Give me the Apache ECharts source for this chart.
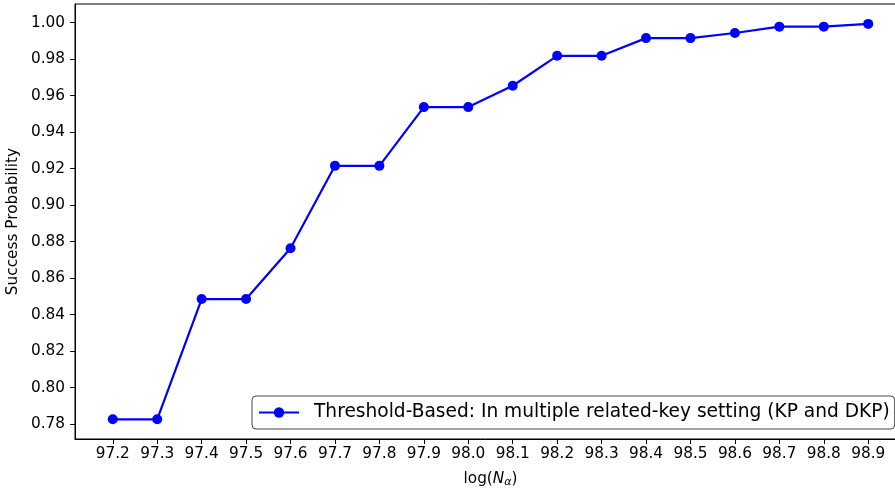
<!DOCTYPE html>
<html>
<head>
<meta charset="utf-8">
<script src="https://cdn.jsdelivr.net/npm/echarts@6/dist/echarts.min.js"></script>
<style>html,body{margin:0;padding:0;background:#fff}#c{width:895px;height:491px}</style>
</head>
<body>
<div id="c"></div>
<script>
var xValues = [97.2, 97.3, 97.4, 97.5, 97.6, 97.7, 97.8, 97.9, 98.0, 98.1, 98.2, 98.3, 98.4, 98.5, 98.6, 98.7, 98.8, 98.9];
var successProb = [0.7826, 0.7826, 0.8485, 0.8485, 0.8763, 0.9215, 0.9215, 0.9537, 0.9537, 0.9654, 0.9818, 0.9818, 0.9915, 0.9915, 0.9943, 0.9978, 0.9978, 0.9993];
var xTicks = [97.2, 97.3, 97.4, 97.5, 97.6, 97.7, 97.8, 97.9, 98.0, 98.1, 98.2, 98.3, 98.4, 98.5, 98.6, 98.7, 98.8, 98.9];
var yTicks = [0.78, 0.80, 0.82, 0.84, 0.86, 0.88, 0.90, 0.92, 0.94, 0.96, 0.98, 1.00];
var seriesName = 'Threshold-Based: In multiple related-key setting (KP and DKP)';

var FONT = 'DejaVu Sans';
var FS = 15.3;
var chart = echarts.init(document.getElementById('c'), null, {renderer: 'canvas'});
var data = xValues.map(function (x, i) { return [x, successProb[i]]; });

chart.setOption({
  animation: false,
  backgroundColor: '#fff',
  grid: {left: 75, top: 4, width: 831, height: 435, containLabel: false, outerBoundsMode: 'none',
    show: true, borderColor: '#000', borderWidth: 1, backgroundColor: 'transparent'},
  xAxis: {
    type: 'value', min: 97.115, max: 98.985,
    name: '{n|log(}{i|N}{s|α}{n|)}', nameLocation: 'middle', nameGap: 31,
    nameTextStyle: {rich: {
      n: {fontFamily: FONT, fontSize: FS, color: '#000'},
      i: {fontFamily: FONT, fontSize: FS, fontStyle: 'italic', color: '#000'},
      s: {fontFamily: FONT, fontSize: 11, fontStyle: 'italic', color: '#000', verticalAlign: 'bottom', padding: [7, 0, 0, 0]}
    }},
    axisLine: {show: true, onZero: false, lineStyle: {color: '#000', width: 1}},
    axisTick: {show: true, inside: false, length: 5, customValues: xTicks, lineStyle: {color: '#000'}},
    axisLabel: {show: true, margin: 8, customValues: xTicks, fontFamily: FONT, fontSize: FS, color: '#000',
      formatter: function (v) { return v.toFixed(1); }},
    splitLine: {show: false}
  },
  yAxis: {
    type: 'value', min: 0.7718, max: 1.0102,
    name: 'Success Probability', nameLocation: 'middle', nameGap: 50, nameRotate: 90,
    nameTextStyle: {fontFamily: FONT, fontSize: FS, color: '#000'},
    axisLine: {show: true, onZero: false, lineStyle: {color: '#000', width: 1}},
    axisTick: {show: true, inside: false, length: 5, customValues: yTicks, lineStyle: {color: '#000'}},
    axisLabel: {show: true, margin: 10, customValues: yTicks, fontFamily: FONT, fontSize: FS, color: '#000',
      formatter: function (v) { return v.toFixed(2); }},
    splitLine: {show: false}
  },
  legend: {
    show: true, left: 252, top: 396,
    padding: [7, 5, 7, 6],
    borderColor: '#444', borderWidth: 1, borderRadius: 4, backgroundColor: '#fff',
    itemWidth: 40, itemHeight: 13,
    textStyle: {fontFamily: FONT, fontSize: 18.6, color: '#000', padding: [0, 0, 0, 10]},
    data: [{name: seriesName}]
  },
  series: [{
    name: seriesName, type: 'line', data: data,
    symbol: 'circle', symbolSize: 10,
    lineStyle: {color: '#0000ff', width: 2.2},
    itemStyle: {color: '#0000ff'},
    clip: false
  }]
});
</script>
</body>
</html>
